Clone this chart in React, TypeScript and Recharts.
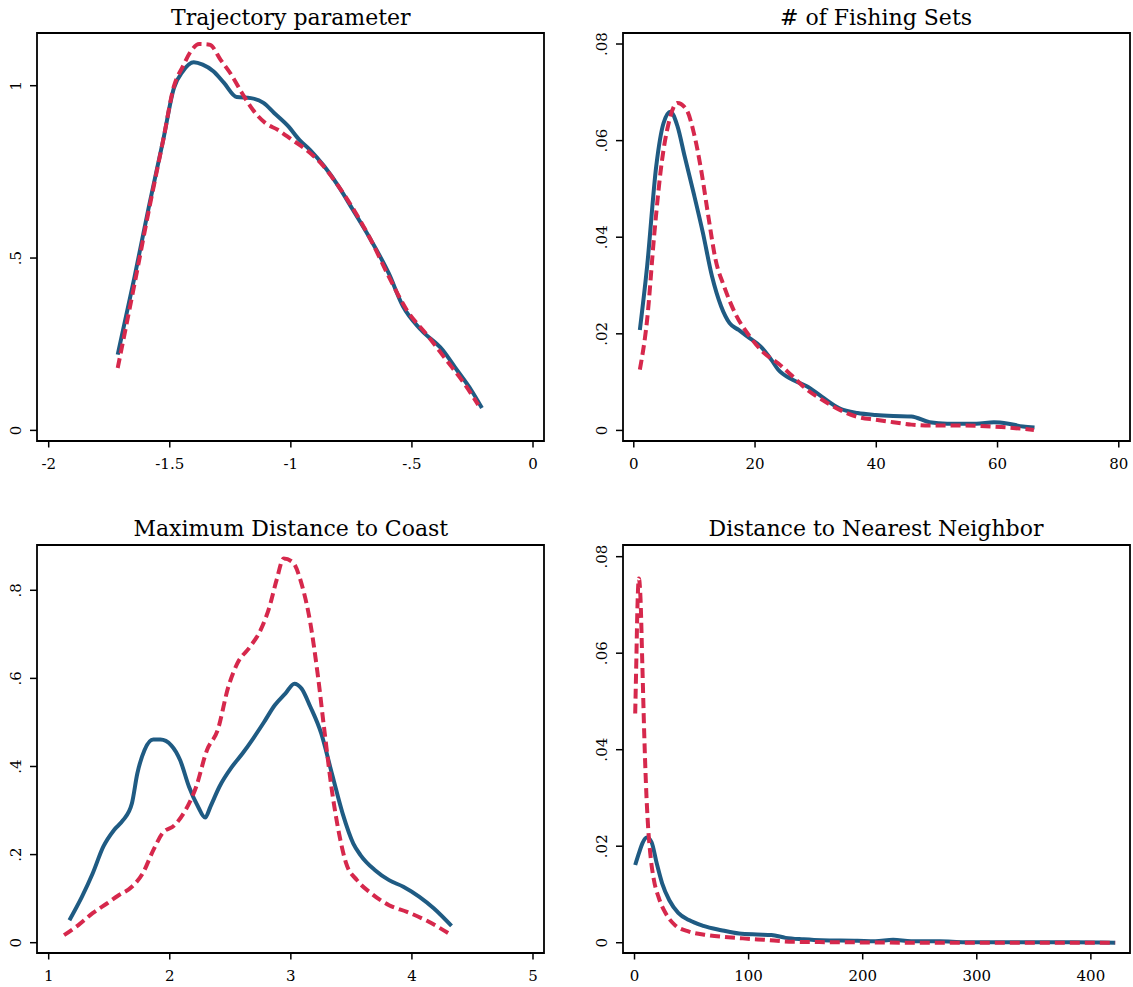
import { LineChart, Line, XAxis, YAxis, ReferenceArea } from 'recharts'

const FONT = '"DejaVu Serif", serif'
const BLUE = '#1f5b83'
const RED = '#d6284c'

// Trajectory parameter
const trajBlueX = [-1.715, -1.645, -1.586, -1.527, -1.483, -1.446, -1.401, -1.364, -1.32, -1.276, -1.224, -1.165, -1.113, -1.069, -1.01, -0.965, -0.921, -0.862, -0.803, -0.744, -0.67, -0.596, -0.537, -0.463, -0.374, -0.315, -0.256, -0.211]
const trajBlueY = [0.22, 0.447, 0.65, 0.843, 0.993, 1.042, 1.068, 1.061, 1.042, 1.008, 0.967, 0.964, 0.95, 0.921, 0.882, 0.843, 0.814, 0.766, 0.708, 0.64, 0.553, 0.456, 0.36, 0.292, 0.234, 0.176, 0.118, 0.065]
const trajRedX = [-1.715, -1.645, -1.586, -1.527, -1.483, -1.446, -1.409, -1.379, -1.335, -1.29, -1.246, -1.202, -1.157, -1.106, -1.054, -0.995, -0.936, -0.877, -0.803, -0.67, -0.596, -0.522, -0.433, -0.359, -0.285, -0.226]
const trajRedY = [0.181, 0.427, 0.64, 0.843, 0.998, 1.056, 1.104, 1.121, 1.119, 1.075, 1.032, 0.979, 0.93, 0.892, 0.872, 0.843, 0.814, 0.776, 0.708, 0.553, 0.447, 0.35, 0.273, 0.205, 0.137, 0.074]
const trajXTicks = [-2, -1.5, -1, -0.5, 0]
const trajXLabels = ['-2', '-1.5', '-1', '-.5', '0']
const trajYTicks = [0, 0.5, 1]
const trajYLabels = ['0', '.5', '1']

// # of Fishing Sets
const setsBlueX = [1, 2.2, 3.7, 4.9, 6.05, 7.2, 8.4, 9.9, 11.4, 12.9, 14.4, 15.8, 17.3, 19.1, 20.9, 22.7, 23.8, 26.2, 28.6, 31, 33.9, 36.9, 39.9, 42.8, 45.8, 48.8, 51.7, 54.7, 56.5, 59.4, 61.8, 64.2, 66.1]
const setsBlueY = [0.0208, 0.034, 0.0547, 0.0636, 0.066, 0.063, 0.0567, 0.049, 0.0409, 0.0319, 0.0257, 0.0222, 0.0208, 0.0191, 0.0174, 0.0146, 0.0126, 0.0105, 0.0091, 0.007, 0.0046, 0.0036, 0.0032, 0.003, 0.0029, 0.0017, 0.0014, 0.0014, 0.0014, 0.0017, 0.0014, 0.0008, 0.0006]
const setsRedX = [1, 2.2, 3.4, 4.6, 5.75, 7.2, 8.7, 9.9, 11.1, 12.3, 13.5, 14.9, 16.7, 19.1, 21.5, 23.8, 26.2, 28.6, 31, 33.9, 36.9, 39.9, 42.8, 45.8, 48.8, 54.7, 60.6, 66]
const setsRedY = [0.0126, 0.0229, 0.0409, 0.0554, 0.0636, 0.0678, 0.0664, 0.0616, 0.054, 0.0443, 0.0353, 0.0298, 0.0243, 0.0195, 0.016, 0.0139, 0.0112, 0.0084, 0.0064, 0.0043, 0.0028, 0.0022, 0.0017, 0.0012, 0.001, 0.001, 0.0007, 0.0001]
const setsXTicks = [0, 20, 40, 60, 80]
const setsXLabels = ['0', '20', '40', '60', '80']
const setsYTicks = [0, 0.02, 0.04, 0.06, 0.08]
const setsYLabels = ['0', '.02', '.04', '.06', '.08']

// Maximum Distance to Coast
const coastBlueX = [1.171, 1.274, 1.363, 1.451, 1.54, 1.614, 1.687, 1.732, 1.791, 1.864, 1.923, 2.012, 2.086, 2.159, 2.233, 2.292, 2.336, 2.41, 2.513, 2.602, 2.69, 2.779, 2.867, 2.956, 3.029, 3.088, 3.162, 3.251, 3.339, 3.428, 3.516, 3.575, 3.693, 3.811, 3.929, 4.062, 4.18, 4.327]
const coastBlueY = [0.051, 0.104, 0.157, 0.218, 0.256, 0.278, 0.316, 0.384, 0.437, 0.461, 0.461, 0.448, 0.414, 0.354, 0.309, 0.284, 0.309, 0.354, 0.399, 0.43, 0.464, 0.501, 0.539, 0.566, 0.588, 0.577, 0.535, 0.475, 0.384, 0.293, 0.225, 0.199, 0.165, 0.142, 0.127, 0.104, 0.078, 0.038]
const coastRedX = [1.127, 1.245, 1.363, 1.481, 1.569, 1.687, 1.776, 1.864, 1.938, 2.041, 2.13, 2.218, 2.307, 2.395, 2.484, 2.558, 2.661, 2.749, 2.823, 2.882, 2.941, 3.015, 3.088, 3.162, 3.221, 3.28, 3.339, 3.398, 3.457, 3.546, 3.664, 3.811, 3.959, 4.136, 4.327]
const coastRedY = [0.017, 0.04, 0.067, 0.089, 0.106, 0.127, 0.157, 0.21, 0.248, 0.267, 0.301, 0.354, 0.437, 0.482, 0.581, 0.634, 0.671, 0.709, 0.762, 0.823, 0.872, 0.864, 0.815, 0.724, 0.611, 0.475, 0.346, 0.248, 0.18, 0.142, 0.112, 0.085, 0.07, 0.048, 0.017]
const coastXTicks = [1, 2, 3, 4, 5]
const coastXLabels = ['1', '2', '3', '4', '5']
const coastYTicks = [0, 0.2, 0.4, 0.6, 0.8]
const coastYLabels = ['0', '.2', '.4', '.6', '.8']

// Distance to Nearest Neighbor
const nbrBlueX = [0.6, 3.8, 6.9, 10.7, 14.8, 19.5, 24.2, 30.5, 38.3, 47.7, 60.3, 76, 91.7, 107.4, 120, 132.5, 148.2, 163.9, 195.3, 211, 226.7, 242.4, 267.5, 289.5, 321, 352, 383.7, 421.3]
const nbrBlueY = [0.0161, 0.0185, 0.0206, 0.0218, 0.0209, 0.0164, 0.0123, 0.0088, 0.0062, 0.0047, 0.0035, 0.0026, 0.0019, 0.0017, 0.0016, 0.001, 0.0007, 0.0005, 0.0004, 0.0003, 0.0006, 0.0003, 0.0003, 0.0001, 0.0001, 0.0001, 0.0001, 0]
const nbrRedX = [0.6, 1.6, 2.5, 3.8, 5.3, 6.9, 8.5, 10, 11.9, 13.8, 17, 21, 27.3, 35.2, 47.7, 63.4, 79.1, 94.8, 113.7, 138.8, 179.6, 258, 421.3]
const nbrRedY = [0.0475, 0.0586, 0.069, 0.0755, 0.071, 0.0572, 0.0434, 0.033, 0.024, 0.0185, 0.013, 0.0095, 0.0061, 0.0037, 0.0023, 0.0016, 0.0012, 0.0009, 0.0006, 0.0002, 0.0001, 0, 0]
const nbrXTicks = [0, 100, 200, 300, 400]
const nbrXLabels = ['0', '100', '200', '300', '400']
const nbrYTicks = [0, 0.02, 0.04, 0.06, 0.08]
const nbrYLabels = ['0', '.02', '.04', '.06', '.08']

const zip = (xs: number[], ys: number[]) => xs.map((x, i) => ({ x, y: ys[i] }))

const FRAME_W = 507
const FRAME_H = 408
const Y_AXIS_W = 40
const X_AXIS_H = 40
const PAD = 10
const TICK_FONT = 15

interface PanelProps {
  title: string
  left: number
  top: number
  xDomain: [number, number]
  yDomain: [number, number]
  xTicks: number[]
  xLabels: string[]
  yTicks: number[]
  yLabels: string[]
  blue: { x: number; y: number }[]
  red: { x: number; y: number }[]
}

function RotatedTick(props: any) {
  const { x, y, payload, ticks, labels } = props
  const i = ticks.indexOf(payload.value)
  return (
    <text
      x={x}
      y={y}
      transform={`rotate(-90 ${x} ${y})`}
      textAnchor="middle"
      fontFamily={FONT}
      fontSize={TICK_FONT}
      fill="#000"
    >
      {i >= 0 ? labels[i] : payload.value}
    </text>
  )
}

function Panel({ title, left, top, xDomain, yDomain, xTicks, xLabels, yTicks, yLabels, blue, red }: PanelProps) {
  return (
    <>
      <div
        style={{
          position: 'absolute',
          left,
          top: top - 26.8,
          width: FRAME_W,
          textAlign: 'center',
          fontFamily: FONT,
          fontSize: 22,
          lineHeight: '22px',
          color: '#000',
          whiteSpace: 'nowrap',
        }}
      >
        {title}
      </div>
      <div style={{ position: 'absolute', left: left - Y_AXIS_W, top: top - PAD }}>
        <LineChart
          width={Y_AXIS_W + FRAME_W + PAD}
          height={PAD + FRAME_H + X_AXIS_H}
          margin={{ top: PAD, right: PAD, left: 0, bottom: 0 }}
        >
          <ReferenceArea
            x1={xDomain[0]}
            x2={xDomain[1]}
            y1={yDomain[0]}
            y2={yDomain[1]}
            fill="none"
            stroke="#000"
            strokeWidth={1.8}
            ifOverflow="visible"
          />
          <XAxis
            dataKey="x"
            type="number"
            domain={xDomain}
            allowDataOverflow
            ticks={xTicks}
            interval={0}
            height={X_AXIS_H}
            axisLine={false}
            tickSize={6.5}
            tickMargin={10.5}
            tickLine={{ stroke: '#000', strokeWidth: 1.5 }}
            tick={{ fontFamily: FONT, fontSize: TICK_FONT, fill: '#000' }}
            tickFormatter={(v: number) => xLabels[xTicks.indexOf(v)] ?? String(v)}
          />
          <YAxis
            dataKey="y"
            type="number"
            domain={yDomain}
            allowDataOverflow
            ticks={yTicks}
            interval={0}
            width={Y_AXIS_W}
            axisLine={false}
            tickSize={7}
            tickMargin={9}
            tickLine={{ stroke: '#000', strokeWidth: 1.5 }}
            tick={(p: any) => <RotatedTick {...p} ticks={yTicks} labels={yLabels} />}
          />
          <Line
            data={blue}
            dataKey="y"
            type="monotone"
            stroke={BLUE}
            strokeWidth={4}
            dot={false}
            activeDot={false}
            isAnimationActive={false}
          />
          <Line
            data={red}
            dataKey="y"
            type="monotone"
            stroke={RED}
            strokeWidth={4}
            strokeDasharray="10 5"
            dot={false}
            activeDot={false}
            isAnimationActive={false}
          />
        </LineChart>
      </div>
    </>
  )
}

export default function App() {
  return (
    <div
      style={{
        position: 'absolute',
        left: 0,
        top: 0,
        width: 1133,
        height: 987,
        overflow: 'hidden',
        background: '#fff',
      }}
    >
      <Panel
        title="Trajectory parameter"
        left={37.3}
        top={33.3}
        xDomain={[-2.0483, 0.0454]}
        yDomain={[-0.0308, 1.1529]}
        xTicks={trajXTicks}
        xLabels={trajXLabels}
        yTicks={trajYTicks}
        yLabels={trajYLabels}
        blue={zip(trajBlueX, trajBlueY)}
        red={zip(trajRedX, trajRedY)}
      />
      <Panel
        title="# of Fishing Sets"
        left={622.5}
        top={33.3}
        xDomain={[-1.78, 81.85]}
        yDomain={[-0.00219, 0.08228]}
        xTicks={setsXTicks}
        xLabels={setsXLabels}
        yTicks={setsYTicks}
        yLabels={setsYLabels}
        blue={zip(setsBlueX, setsBlueY)}
        red={zip(setsRedX, setsRedY)}
      />
      <Panel
        title="Maximum Distance to Coast"
        left={37.3}
        top={545}
        xDomain={[0.9034, 5.0909]}
        yDomain={[-0.0234, 0.9028]}
        xTicks={coastXTicks}
        xLabels={coastXLabels}
        yTicks={coastYTicks}
        yLabels={coastYLabels}
        blue={zip(coastBlueX, coastBlueY)}
        red={zip(coastRedX, coastRedY)}
      />
      <Panel
        title="Distance to Nearest Neighbor"
        left={622.5}
        top={545}
        xDomain={[-10.1, 434.3]}
        yDomain={[-0.00213, 0.08242]}
        xTicks={nbrXTicks}
        xLabels={nbrXLabels}
        yTicks={nbrYTicks}
        yLabels={nbrYLabels}
        blue={zip(nbrBlueX, nbrBlueY)}
        red={zip(nbrRedX, nbrRedY)}
      />
    </div>
  )
}
